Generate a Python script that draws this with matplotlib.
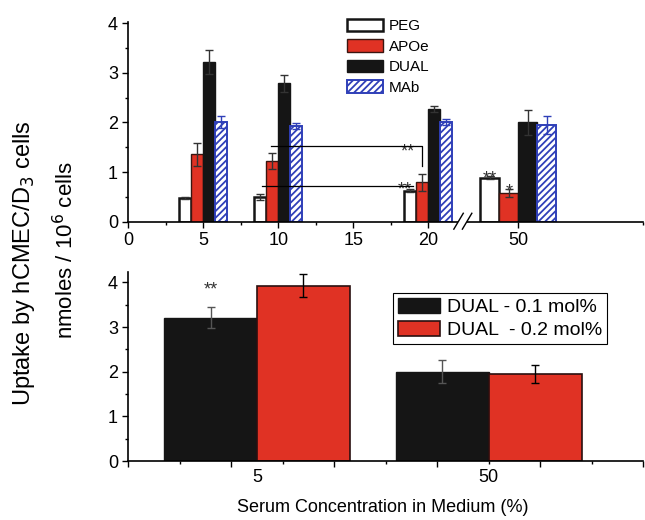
import matplotlib
matplotlib.use('Agg')
import matplotlib.pyplot as plt
import numpy as np

plt.rcParams['font.family'] = ['Liberation Sans', 'DejaVu Sans']
plt.rcParams['hatch.linewidth'] = 1.3

# top panel data (serum %, uptake, error)
top_labels = ['5', '10', '20', '50']
top_pos = [5, 10, 20, 26]
top_width = [0.8, 0.8, 0.8, 1.27]
peg = [0.47, 0.49, 0.62, 0.89]
peg_err = [0.02, 0.06, 0.03, 0.03]
apoe = [1.36, 1.22, 0.79, 0.58]
apoe_err = [0.23, 0.16, 0.17, 0.08]
dual = [3.21, 2.79, 2.27, 2.0]
dual_err = [0.24, 0.17, 0.06, 0.26]
mab = [2.0, 1.92, 2.0, 1.94]
mab_err = [0.12, 0.06, 0.06, 0.18]

# bottom panel data
bot_labels = ['5', '50']
bot_pos = [1.25, 3.5]
dual01 = [3.21, 2.0]
dual01_err = [0.24, 0.26]
dual02 = [3.93, 1.95]
dual02_err = [0.25, 0.2]

RED = '#e03224'
BLACK = '#151515'
BLUE = '#2f3fb8'
FS = 13

fig = plt.figure(figsize=(6.45, 5.2), dpi=100)
ax1 = fig.add_axes([128.3/645, 1-221.7/520, 515/645, 200/520])
ax2 = fig.add_axes([128.3/645, 1-461/520, 515/645, 189.3/520])


def style_axis(ax):
    for s in ['top', 'right']:
        ax.spines[s].set_visible(False)
    for s in ['left', 'bottom']:
        ax.spines[s].set_linewidth(1.2)
    ax.tick_params(which='major', direction='out', length=4.5, width=1.0, labelsize=FS, pad=3)
    ax.tick_params(which='minor', direction='out', length=2.5, width=1.0)
    ax.set_yticks([0, 1, 2, 3, 4])
    ax.set_yticks(np.arange(0.5, 4, 1), minor=True)


# ---- top panel ----
pos = np.array(top_pos, dtype=float)
w = np.array(top_width)
series = [(peg, peg_err, 'white', BLACK, 1.8, None, '#333333', 'PEG'),
          (apoe, apoe_err, RED, '#3a1510', 1.0, None, '#333333', 'APOe'),
          (dual, dual_err, BLACK, BLACK, 1.0, None, '#333333', 'DUAL'),
          (mab, mab_err, 'white', BLUE, 1.4, '/////', BLUE, 'MAb')]
for i, (vals, err, fc, ec, lw, hatch, errc, lab) in enumerate(series):
    x = pos + (i - 1.5) * w
    ax1.bar(x, vals, width=w, color=fc, edgecolor=ec, linewidth=lw, hatch=hatch,
            label=lab, zorder=2)
    ax1.errorbar(x, vals, yerr=err, fmt='none', ecolor=errc, elinewidth=1.0,
                 capsize=2.8, capthick=1.0, zorder=3)

ax1.set_xlim(0, 34.33)
ax1.set_ylim(0, 4.03)
style_axis(ax1)
ax1.set_xticks([0, 5, 10, 15, 20, 26])
ax1.set_xticklabels(['0', '5', '10', '15', '20', '50'])
ax1.set_xticks([2.5, 7.5, 12.5, 17.5, 34.33], minor=True)

# axis break marks
ax1.plot([22.0, 22.6], [0, 0], color='white', lw=3, clip_on=False, zorder=4,
         solid_capstyle='butt')
for bx in [21.7, 22.27]:
    ax1.plot([bx, bx + 0.63], [-0.15, 0.17], color='black', lw=1.0,
             clip_on=False, zorder=5)

# significance brackets
ax1.plot([9.49, 19.6, 19.6], [1.53, 1.53, 1.12], color='black', lw=0.9, zorder=4)
ax1.plot([8.89, 18.96], [0.72, 0.72], color='black', lw=0.9, zorder=4)
ax1.text(18.65, 1.40, '**', ha='center', va='center', fontsize=13, color='#333333')
ax1.text(18.4, 0.64, '**', ha='center', va='center', fontsize=13, color='#333333')
ax1.text(24.1, 0.87, '**', ha='center', va='center', fontsize=13, color='#333333')
ax1.text(25.37, 0.60, '*', ha='center', va='center', fontsize=13, color='#333333')

ax1.legend(loc='upper left', bbox_to_anchor=(346.7/645, 1-19/520),
           bbox_transform=fig.transFigure, frameon=False, fontsize=11,
           handlelength=2.4, handleheight=0.85, handletextpad=0.35,
           labelspacing=0.4, borderpad=0, borderaxespad=0)

# ---- bottom panel ----
bp = np.array(bot_pos)
bw = 0.9
ax2.bar(bp - bw/2, dual01, width=bw, color=BLACK, edgecolor=BLACK, lw=1.0,
        label='DUAL - 0.1 mol%', zorder=2)
ax2.bar(bp + bw/2, dual02, width=bw, color=RED, edgecolor='#2a1010', lw=1.2,
        label='DUAL  - 0.2 mol%', zorder=2)
ax2.errorbar(bp - bw/2, dual01, yerr=dual01_err, fmt='none', ecolor='#555555',
             elinewidth=1.0, capsize=3, capthick=1.0, zorder=3)
ax2.errorbar(bp + bw/2, dual02, yerr=dual02_err, fmt='none', ecolor='black',
             elinewidth=1.0, capsize=3, capthick=1.0, zorder=3)
ax2.set_xlim(0, 5)
ax2.set_ylim(0, 4.24)
style_axis(ax2)
ax2.set_xticks(np.arange(0, 6, 1))
ax2.set_xticklabels([])
ax2.set_xticks(np.arange(0.5, 5, 1), minor=True)
for p, lab in zip(bot_pos, bot_labels):
    ax2.annotate(lab, xy=(p, 0), xycoords=('data', 'axes fraction'),
                 xytext=(0, -12), textcoords='offset points',
                 ha='center', va='center', fontsize=FS)
ax2.text(bp[0] - bw/2, 3.84, '**', ha='center', va='center', fontsize=13, color='#333333')

ax2.legend(loc='upper left', bbox_to_anchor=(393.3/645, 1-293.3/520),
           bbox_transform=fig.transFigure, fontsize=14, fancybox=False,
           edgecolor='black', framealpha=1, handlelength=2.2, handleheight=0.85,
           handletextpad=0.35, labelspacing=0.25, borderpad=0.22, borderaxespad=0)
ax2.get_legend().get_frame().set_linewidth(0.8)

# labels
fig.text(24/645, 1-263/520, 'Uptake by hCMEC/D$_3$ cells', rotation=90,
         ha='center', va='center', fontsize=17)
fig.text(66/645, 1-250/520, 'nmoles / 10$^6$ cells', rotation=90,
         ha='center', va='center', fontsize=16)
fig.text(383/645, 1-508/520, 'Serum Concentration in Medium (%)',
         ha='center', va='center', fontsize=FS)

fig.savefig('out.png', dpi=100)
